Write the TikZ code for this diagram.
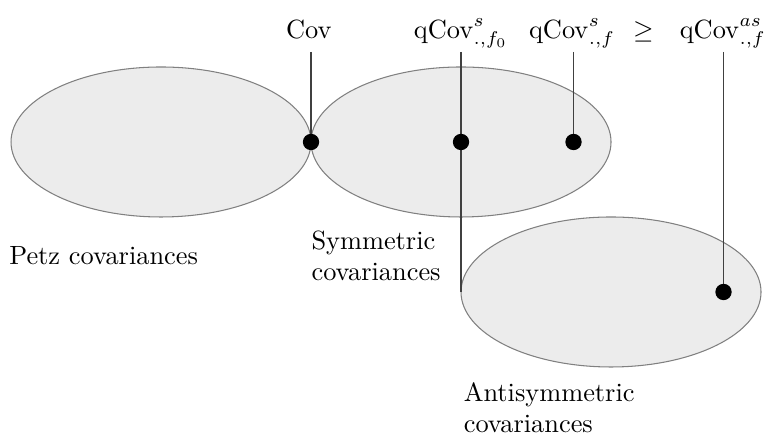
\documentclass[tikz,border=0pt]{standalone}
\begin{document}
\begin{tikzpicture}[
  dotmark/.style={fill=black, circle, inner sep=0pt, minimum size=6.2pt},
  conn/.style={draw=black!75, line width=0.5pt},
  toplabel/.style={anchor=base, inner sep=0pt},
  setlabel/.style={anchor=base west, inner sep=0pt, align=left}
]
\useasboundingbox (-2.147,-4.0) rectangle (8.093,1.893);
\draw[draw=gray, fill=gray!15] (0,0) ellipse (2cm and 1cm);
\draw[draw=gray, fill=gray!15] (4,0) ellipse (2cm and 1cm);
\draw[draw=gray, fill=gray!15] (6,-2) ellipse (2cm and 1cm);

\node[toplabel] (cov) at (1.97,1.38) {Cov};
\node[toplabel] (qf0) at (4.0,1.38) {$\mathrm{qCov}^s_{.,f_0}$};
\node[toplabel] (qf) at (5.48,1.38) {$\mathrm{qCov}^s_{.,f}$};
\node[toplabel] (geq) at (6.43,1.38) {$\geq$};
\node[toplabel] (qas) at (7.49,1.38) {$\mathrm{qCov}^{as}_{.,f}$};

\coordinate (tcov) at (2,1.2);
\coordinate (tqf0) at (4,1.2);
\coordinate (tqf) at (5.5,1.2);
\coordinate (tqas) at (7.5,1.2);
\coordinate (bqf0) at (4,-2);

\draw[conn] (tcov) -- (2,0) node[dotmark] (dcov) {};
\draw[conn] (tqf0) -- (bqf0);
\node[dotmark] (dqf0) at (4,0) {};
\draw[conn] (tqf) -- (5.5,0) node[dotmark] (dqf) {};
\draw[conn] (tqas) -- (7.5,-2) node[dotmark] (dqas) {};

\node[setlabel] (petz) at (-2.03,-1.63) {Petz covariances};
\node[setlabel] (sym) at (2.0,-1.85) {Symmetric\\covariances};
\node[setlabel] (anti) at (4.03,-3.88) {Antisymmetric\\covariances};
\end{tikzpicture}
\end{document}
